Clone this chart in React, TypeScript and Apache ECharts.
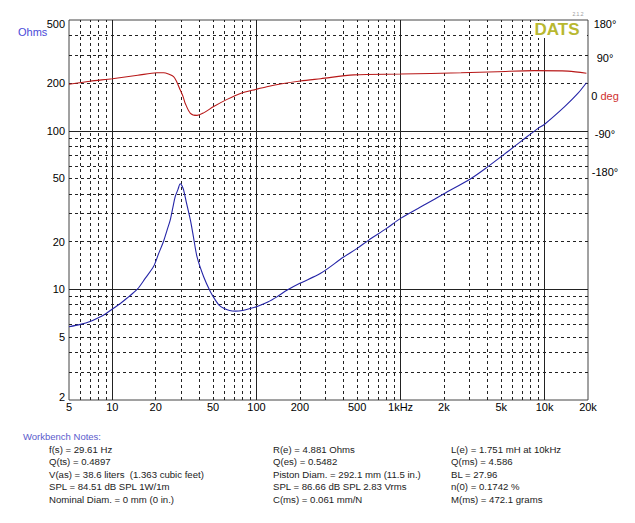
import React, { useEffect, useRef } from "react";
import * as echarts from "echarts";

// Impedance magnitude (Ohms)
const impFreq = [
  5, 6, 7, 8, 9, 10, 11.3, 12.6, 14.9, 17, 19.3, 21, 22.6, 24, 25.2, 26.3, 27.3, 28.5, 29.6, 30.4, 31.2, 32.5,
  34.8, 36.5, 38.7, 43, 47.9, 52, 55, 59.3, 65, 71.5, 80, 90, 100, 120, 140, 163.6, 200, 279, 400, 500, 605,
  800, 1000, 1500, 2000, 3085, 4000, 5560, 7000, 9000, 10000, 13770, 17000, 19500,
];
const impOhms = [
  5.8, 6.0, 6.25, 6.6, 7.0, 7.5, 8.1, 8.77, 10.0, 11.8, 13.9, 16.9, 19.95, 23.7, 27.3, 32.8, 38.4, 42.5, 46.3,
  45, 42.3, 35.9, 27.3, 21.5, 16.0, 12.0, 9.65, 8.5, 7.95, 7.58, 7.35, 7.28, 7.35, 7.55, 7.76, 8.3, 9.0, 9.88,
  10.9, 12.6, 15.9, 18.1, 20.5, 24.2, 28, 34.5, 40, 50, 59, 74, 87, 103.6, 110, 142, 172, 201,
];

// Phase (degrees)
const phaseFreq = [
  5, 7, 10, 15, 20.4, 22.7, 24.5, 26.6, 28, 29.6, 31, 32, 34.8, 38.7, 43, 50.5, 62.5, 77.4, 100, 118, 150,
  202, 279, 475, 1000, 2630, 4730, 8510, 14530, 19500,
];
const phaseDeg = [
  28, 35, 41, 49, 55, 55, 52, 46, 33, 14, -2, -17, -41, -46, -40, -25, -8, 6, 16, 22, 29, 35.5, 41, 50, 52,
  55, 57.5, 60, 59, 54,
];

// Axis labels and grid lines
const xTickValues = [5, 10, 20, 50, 100, 200, 500, 1000, 2000, 5000, 10000, 20000];
const xTickLabels = ["5", "10", "20", "50", "100", "200", "500", "1kHz", "2k", "5k", "10k", "20k"];
const yTickValues = [2, 5, 10, 20, 50, 100, 200, 500];
const xGridSolid = [10, 100, 1000, 10000];
const xGridDashed = [
  6, 7, 8, 9, 20, 30, 40, 50, 60, 70, 80, 90, 200, 300, 400, 500, 600, 700, 800, 900, 2000, 3000, 4000,
  5000, 6000, 7000, 8000, 9000,
];
const yGridSolid = [10, 100];
const yGridDashed = [3, 4, 5, 6, 7, 8, 9, 20, 30, 40, 50, 60, 70, 80, 90, 200, 300, 400];

// Workbench notes, three columns
const notesCol1 = [
  "f(s) = 29.61 Hz",
  "Q(ts) = 0.4897",
  "V(as) = 38.6 liters  (1.363 cubic feet)",
  "SPL = 84.51 dB SPL 1W/1m",
  "Nominal Diam. = 0 mm (0 in.)",
];
const notesCol2 = [
  "R(e) = 4.881 Ohms",
  "Q(es) = 0.5482",
  "Piston Diam. = 292.1 mm (11.5 in.)",
  "SPL = 86.66 dB SPL 2.83 Vrms",
  "C(ms) = 0.061 mm/N",
];
const notesCol3 = [
  "L(e) = 1.751 mH at 10kHz",
  "Q(ms) = 4.586",
  "BL = 27.96",
  "n(0) = 0.1742 %",
  "M(ms) = 472.1 grams",
];

const FONT = "'Liberation Sans', Arial, sans-serif";
const dashed = { color: "#222", width: 1, type: [3, 3] };
const solid = { color: "#222", width: 1, type: "solid" };

const App: React.FC = () => {
  const chartRef = useRef<HTMLDivElement>(null);

  useEffect(() => {
    if (!chartRef.current) return;
    const chart = echarts.init(chartRef.current, null, { renderer: "svg" });

    const gridLines = [
      ...xGridDashed.map((v) => ({ xAxis: v, lineStyle: dashed })),
      ...yGridDashed.map((v) => ({ yAxis: v, lineStyle: dashed })),
      ...xGridSolid.map((v) => ({ xAxis: v, lineStyle: solid })),
      ...yGridSolid.map((v) => ({ yAxis: v, lineStyle: solid })),
    ];

    chart.setOption({
      animation: false,
      backgroundColor: "#fff",
      grid: {
        left: 69,
        right: 47,
        top: 20,
        bottom: 123,
        show: true,
        borderColor: "#444",
        borderWidth: 1,
      },
      xAxis: {
        type: "log",
        logBase: 10,
        min: 5,
        max: 20000,
        axisLabel: { show: false },
        axisTick: { show: false },
        axisLine: { show: false },
        splitLine: { show: false },
      },
      yAxis: [
        {
          type: "log",
          logBase: 10,
          min: 2,
          max: 500,
          axisLabel: { show: false },
          axisTick: { show: false },
          axisLine: { show: false },
          splitLine: { show: false },
        },
        {
          type: "value",
          position: "right",
          min: -720,
          max: 180,
          interval: 90,
          axisTick: { show: false },
          axisLine: { show: false },
          splitLine: { show: false },
          axisLabel: {
            margin: 17,
            align: "center",
            color: "#000",
            fontSize: 11,
            fontFamily: FONT,
            formatter: (v: number) => {
              if (v < -180) return "";
              if (v === 0) return "{b|0 }{r|deg}";
              if (v === 180) return "{t|180°}";
              return `{b|${v}°}`;
            },
            rich: {
              b: { color: "#000", fontSize: 11, fontFamily: FONT },
              t: { color: "#000", fontSize: 11, fontFamily: FONT, padding: [8, 0, 0, 0] },
              r: { color: "#d03030", fontSize: 11, fontFamily: FONT },
            },
          },
        },
      ],
      series: [
        {
          name: "Impedance",
          type: "line",
          yAxisIndex: 0,
          z: 4,
          data: impFreq.map((f, i) => [f, impOhms[i]]),
          showSymbol: false,
          smooth: 0.3,
          lineStyle: { color: "#2525a8", width: 1.1 },
          markLine: {
            z: 1,
            silent: true,
            symbol: ["none", "none"],
            label: { show: false },
            animation: false,
            data: gridLines,
          },
        },
        {
          name: "Phase",
          type: "line",
          yAxisIndex: 1,
          z: 4,
          data: phaseFreq.map((f, i) => [f, phaseDeg[i]]),
          showSymbol: false,
          smooth: 0.3,
          lineStyle: { color: "#b81818", width: 1.1 },
        },
      ],
    });

    const px = (v: number) => chart.convertToPixel({ xAxisIndex: 0 }, v) as number;
    const py = (v: number) => chart.convertToPixel({ yAxisIndex: 0 }, v) as number;
    const labelStyle = { fill: "#000", fontSize: 11, fontFamily: FONT };
    const noteStyle = { fill: "#222", fontSize: 9.6, fontFamily: FONT, verticalAlign: "middle" };
    const noteRows = [449, 461.5, 474, 486.5, 499];

    const graphic: any[] = [
      ...xTickValues.map((v, i) => ({
        type: "text",
        x: px(v),
        y: 407,
        z: 100,
        style: { ...labelStyle, text: xTickLabels[i], align: "center", verticalAlign: "middle" },
      })),
      ...yTickValues.map((v) => ({
        type: "text",
        x: 65,
        y: Math.min(Math.max(py(v), 24), 397),
        z: 100,
        style: { ...labelStyle, text: String(v), align: "right", verticalAlign: "middle" },
      })),
      {
        type: "text",
        x: 18,
        y: 32,
        z: 100,
        style: { text: "Ohms", fill: "#4a4ad8", fontSize: 11, fontFamily: FONT, verticalAlign: "middle" },
      },
      // DATS logo box
      {
        type: "rect",
        z: 100,
        shape: { x: 533, y: 21, width: 54, height: 17 },
        style: { fill: "#fff" },
      },
      {
        type: "text",
        x: 557,
        y: 29,
        z: 101,
        style: {
          text: "DATS",
          fill: "#b8b830",
          fontSize: 17,
          fontWeight: "bold",
          fontFamily: FONT,
          align: "center",
          verticalAlign: "middle",
        },
      },
      {
        type: "text",
        x: 578,
        y: 14,
        z: 101,
        style: { text: "2.1.2", fill: "#999", fontSize: 5, fontFamily: FONT, align: "center", verticalAlign: "middle" },
      },
      // Notes
      {
        type: "text",
        x: 23,
        y: 436,
        z: 100,
        style: { text: "Workbench Notes:", fill: "#5a5acc", fontSize: 9.5, fontFamily: FONT, verticalAlign: "middle" },
      },
      ...notesCol1.map((t, i) => ({ type: "text", x: 49, y: noteRows[i], z: 100, style: { ...noteStyle, text: t } })),
      ...notesCol2.map((t, i) => ({ type: "text", x: 273, y: noteRows[i], z: 100, style: { ...noteStyle, text: t } })),
      ...notesCol3.map((t, i) => ({ type: "text", x: 451, y: noteRows[i], z: 100, style: { ...noteStyle, text: t } })),
    ];

    chart.setOption({ graphic });

    return () => {
      chart.dispose();
    };
  }, []);

  return (
    <div
      ref={chartRef}
      style={{ position: "fixed", left: 0, top: 0, width: "635px", height: "523px", background: "#fff" }}
    />
  );
};

export default App;
